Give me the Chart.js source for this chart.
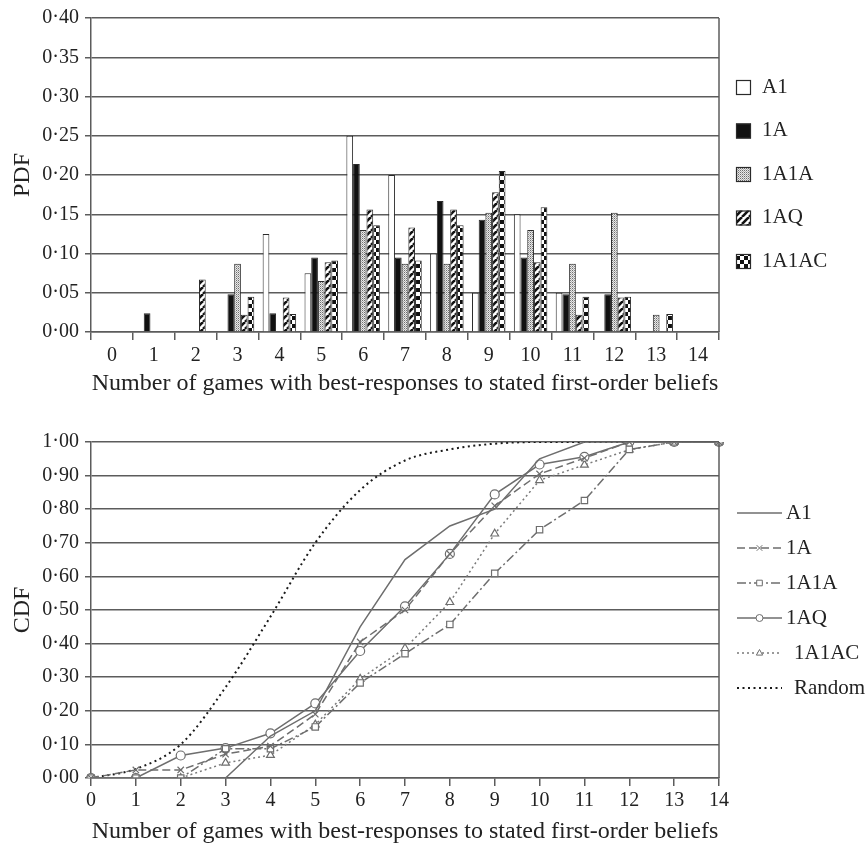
<!DOCTYPE html>
<html>
<head>
<meta charset="utf-8">
<script src="https://cdn.jsdelivr.net/npm/chart.js@4.4.1/dist/chart.umd.min.js"></script>
<style>
body { margin: 0; background: #fff; }
canvas { position: absolute; left: 0; }
#pdfChart { top: 0; }
#cdfChart { top: 400px; }
</style>
</head>
<body>
<canvas id="pdfChart" width="868" height="400"></canvas>
<canvas id="cdfChart" width="868" height="446"></canvas>
<script>
var fontFamily = '"Liberation Serif","Times New Roman",Times,serif';
var textColor = '#222';
var gridColor = '#5c5c5c';

var games = ['0', '1', '2', '3', '4', '5', '6', '7', '8', '9', '10', '11', '12', '13', '14'];
var treatments = ['A1', '1A', '1A1A', '1AQ', '1A1AC'];
var axisTitle = 'Number of games with best-responses to stated first-order beliefs';

// share of subjects per number of games (PDF)
var pdfA1 = [0, 0, 0, 0, 0.125, 0.075, 0.25, 0.20, 0.10, 0.05, 0.15, 0.05, 0, 0, 0];
var pdf1A = [0, 0.024, 0, 0.048, 0.024, 0.095, 0.214, 0.095, 0.167, 0.143, 0.095, 0.048, 0.048, 0, 0];
var pdf1A1A = [0, 0, 0, 0.087, 0, 0.065, 0.130, 0.087, 0.087, 0.152, 0.130, 0.087, 0.152, 0.022, 0];
var pdf1AQ = [0, 0, 0.067, 0.022, 0.044, 0.089, 0.156, 0.133, 0.156, 0.178, 0.089, 0.022, 0.044, 0, 0];
var pdf1A1AC = [0, 0, 0, 0.045, 0.023, 0.091, 0.136, 0.091, 0.136, 0.205, 0.159, 0.045, 0.045, 0.023, 0];

// cumulative shares (CDF)
var cdfA1 = [0, 0, 0, 0, 0.125, 0.20, 0.45, 0.65, 0.75, 0.80, 0.95, 1, 1, 1, 1];
var cdf1A = [0, 0.024, 0.024, 0.071, 0.095, 0.190, 0.405, 0.500, 0.667, 0.810, 0.905, 0.952, 1, 1, 1];
var cdf1A1A = [0, 0, 0, 0.087, 0.087, 0.152, 0.283, 0.370, 0.457, 0.609, 0.739, 0.826, 0.978, 1, 1];
var cdf1AQ = [0, 0, 0.067, 0.089, 0.133, 0.222, 0.378, 0.511, 0.667, 0.844, 0.933, 0.956, 1, 1, 1];
var cdf1A1AC = [0, 0, 0, 0.045, 0.068, 0.159, 0.295, 0.386, 0.523, 0.727, 0.886, 0.932, 0.977, 1, 1];
var cdfRandom = [0, 0.027, 0.10, 0.27, 0.48, 0.70, 0.857, 0.945, 0.978, 0.995, 1, 1, 1, 1, 1];

function decimalDot(value) {
    return Number(value).toFixed(2).replace('.', '\u00b7');
}

function makePattern(ctx, kind) {
    var c = document.createElement('canvas');
    var g = c.getContext('2d');
    if (kind === 'dots') {
        c.width = 2; c.height = 2;
        g.fillStyle = '#e8e8e8'; g.fillRect(0, 0, 2, 2);
        g.fillStyle = '#6e6e6e'; g.fillRect(0, 0, 1, 1);
        g.fillStyle = '#b0b0b0'; g.fillRect(1, 1, 1, 1);
    } else if (kind === 'stripes') {
        c.width = 7; c.height = 7;
        g.fillStyle = '#fff'; g.fillRect(0, 0, 7, 7);
        g.strokeStyle = '#111'; g.lineWidth = 2.6;
        [-7, 0, 7].forEach(function (o) {
            g.beginPath(); g.moveTo(o, 7); g.lineTo(o + 7, 0); g.stroke();
        });
    } else {
        c.width = 8; c.height = 8;
        g.fillStyle = '#fff'; g.fillRect(0, 0, 8, 8);
        g.fillStyle = '#111';
        g.fillRect(0, 0, 4, 4); g.fillRect(4, 4, 4, 4);
    }
    return ctx.createPattern(c, 'repeat');
}

function drawMarker(ctx, style, x, y, r) {
    ctx.beginPath();
    if (style === 'circle') {
        ctx.arc(x, y, r, 0, Math.PI * 2);
    } else if (style === 'rect') {
        ctx.rect(x - r * 0.8, y - r * 0.8, r * 1.6, r * 1.6);
    } else if (style === 'triangle') {
        ctx.moveTo(x, y - r);
        ctx.lineTo(x + r * 0.9, y + r * 0.6);
        ctx.lineTo(x - r * 0.9, y + r * 0.6);
        ctx.closePath();
    } else if (style === 'crossRot') {
        ctx.moveTo(x - r * 0.8, y - r * 0.8); ctx.lineTo(x + r * 0.8, y + r * 0.8);
        ctx.moveTo(x + r * 0.8, y - r * 0.8); ctx.lineTo(x - r * 0.8, y + r * 0.8);
        ctx.stroke();
        return;
    } else {
        return;
    }
    ctx.fill();
    ctx.stroke();
}

// legend column drawn beside the plot; textX may differ per row
function sideLegend(x, textX, top, step, drawKey) {
    return {
        id: 'sideLegend',
        afterDraw: function (chart) {
            var ctx = chart.ctx;
            chart.data.datasets.forEach(function (ds, i) {
                var y = top + i * step;
                ctx.save();
                drawKey(ctx, ds, x, y);
                ctx.restore();
                ctx.save();
                ctx.font = '21px ' + fontFamily;
                ctx.fillStyle = textColor;
                ctx.textBaseline = 'middle';
                ctx.fillText(ds.label, Array.isArray(textX) ? textX[i] : textX, y);
                ctx.restore();
            });
        }
    };
}

var frame = {
    id: 'frame',
    afterDatasetsDraw: function (chart) {
        var a = chart.chartArea, ctx = chart.ctx;
        ctx.save();
        ctx.strokeStyle = gridColor;
        ctx.lineWidth = 1.5;
        ctx.beginPath();
        ctx.moveTo(a.right, a.top);
        ctx.lineTo(a.right, a.bottom);
        ctx.stroke();
        ctx.restore();
    }
};

function yAxis(title, max, step) {
    return {
        min: 0,
        max: max,
        afterFit: function (scale) { scale.width = 91; },
        border: { color: gridColor, width: 1.5 },
        grid: { color: gridColor, lineWidth: 1.5, tickLength: 6 },
        ticks: {
            stepSize: step,
            padding: 6,
            color: textColor,
            font: { family: fontFamily, size: 20 },
            callback: decimalDot
        },
        title: {
            display: true,
            text: title,
            color: textColor,
            font: { family: fontFamily, size: 24 },
            padding: { top: 8, bottom: 0 }
        }
    };
}

function xAxis(height, labelPad, titlePad) {
    return {
        afterFit: function (scale) { scale.height = height; },
        border: { color: gridColor, width: 1.5 },
        grid: { drawOnChartArea: false, color: gridColor, lineWidth: 1.5, tickLength: 8 },
        ticks: {
            padding: labelPad,
            maxRotation: 0,
            autoSkip: false,
            color: textColor,
            font: { family: fontFamily, size: 20 }
        },
        title: {
            display: true,
            text: axisTitle,
            color: textColor,
            font: { family: fontFamily, size: 24 },
            padding: { top: 0, bottom: titlePad }
        }
    };
}

function drawPdf(canvasId) {
    var canvas = document.getElementById(canvasId);
    var ctx = canvas.getContext('2d');
    var fills = ['#ffffff', '#111111', makePattern(ctx, 'dots'), makePattern(ctx, 'stripes'), makePattern(ctx, 'checks')];
    var series = [pdfA1, pdf1A, pdf1A1A, pdf1AQ, pdf1A1AC];
    var datasets = series.map(function (values, i) {
        return {
            label: treatments[i],
            data: values,
            backgroundColor: fills[i],
            borderColor: '#2a2a2a',
            borderWidth: 1,
            barPercentage: 1,
            categoryPercentage: 0.8
        };
    });
    var legend = sideLegend(736, 762, 87, 43.5, function (c, ds, x, y) {
        c.fillStyle = ds.backgroundColor;
        c.fillRect(x, y - 7, 15, 15);
        c.strokeStyle = '#2a2a2a';
        c.lineWidth = 1.2;
        c.strokeRect(x + 0.5, y - 6.5, 14, 14);
    });
    new Chart(canvas, {
        type: 'bar',
        data: { labels: games, datasets: datasets },
        plugins: [frame, legend],
        options: {
            responsive: false,
            animation: false,
            layout: { padding: { left: 0, top: 11, right: 149, bottom: 0 } },
            plugins: { legend: { display: false }, tooltip: { enabled: false } },
            scales: {
                x: xAxis(68, 4, 2),
                y: yAxis('PDF', 0.4, 0.05)
            }
        }
    });
}

function drawCdf(canvasId) {
    var canvas = document.getElementById(canvasId);
    var series = [cdfA1, cdf1A, cdf1A1A, cdf1AQ, cdf1A1AC, cdfRandom];
    var labels = treatments.concat(['Random']);
    var dashes = [[], [8, 4], [9, 3, 2, 3], [], [2, 3], [2, 3.5]];
    var markers = [false, 'crossRot', 'rect', 'circle', 'triangle', false];
    var colors = ['#6e6e6e', '#6e6e6e', '#6e6e6e', '#6e6e6e', '#7a7a7a', '#1a1a1a'];
    var datasets = series.map(function (values, i) {
        return {
            label: labels[i],
            data: values,
            borderColor: colors[i],
            borderWidth: i === 5 ? 2 : 1.5,
            borderDash: dashes[i],
            cubicInterpolationMode: i === 5 ? 'monotone' : 'default',
            fill: false,
            pointStyle: markers[i] || 'circle',
            pointRadius: markers[i] ? 4.5 : 0,
            pointBackgroundColor: '#ffffff',
            pointBorderColor: '#6e6e6e',
            pointBorderWidth: 1.2,
            marker: markers[i]
        };
    });
    var legend = sideLegend(737, [786, 786, 786, 786, 794, 794], 113, 35, function (c, ds, x, y) {
        c.strokeStyle = ds.borderColor;
        c.lineWidth = ds.borderWidth;
        c.setLineDash(ds.borderDash);
        c.beginPath();
        c.moveTo(x, y);
        c.lineTo(x + 45, y);
        c.stroke();
        c.setLineDash([]);
        if (ds.marker) {
            c.fillStyle = '#ffffff';
            c.strokeStyle = '#6e6e6e';
            c.lineWidth = 1;
            drawMarker(c, ds.marker, x + 22.5, y, 3.5);
        }
    });
    new Chart(canvas, {
        type: 'line',
        data: { labels: games, datasets: datasets },
        plugins: [frame, legend],
        options: {
            responsive: false,
            animation: false,
            layout: { padding: { left: 0, top: 42, right: 149, bottom: 0 } },
            plugins: { legend: { display: false }, tooltip: { enabled: false } },
            scales: {
                x: xAxis(68, 3, 0),
                y: yAxis('CDF', 1, 0.1)
            }
        }
    });
}

drawPdf('pdfChart');
drawCdf('cdfChart');
</script>
</body>
</html>
